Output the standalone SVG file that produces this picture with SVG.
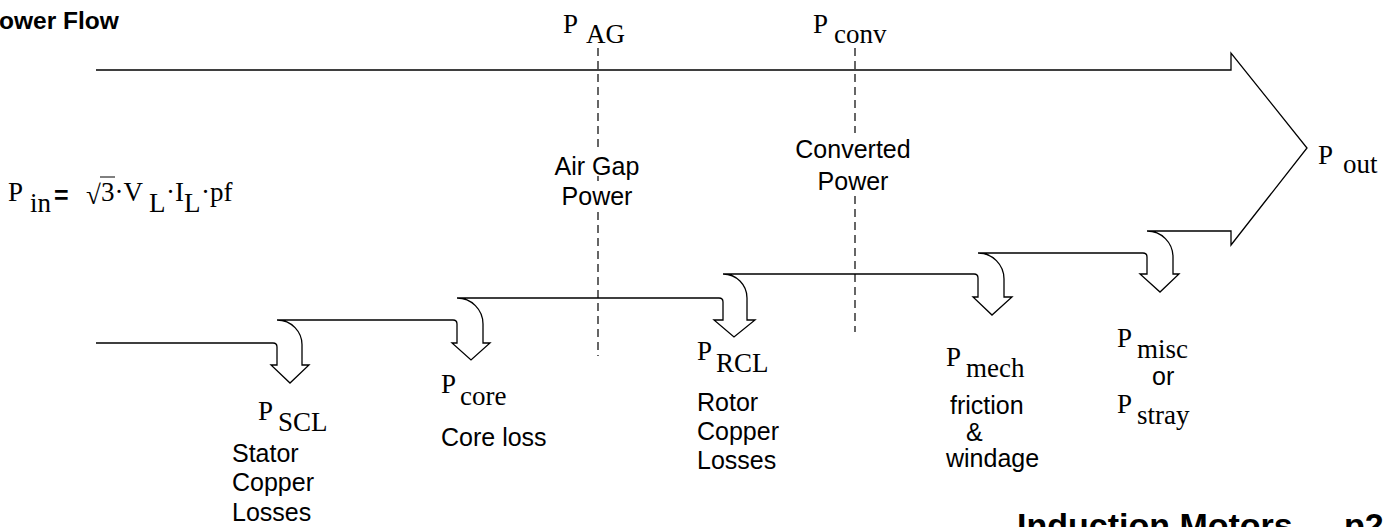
<svg xmlns="http://www.w3.org/2000/svg" width="1392" height="527" viewBox="0 0 1392 527">
<style>
.ln{fill:none;stroke:#000;stroke-width:1.3;stroke-linejoin:miter}
.dash{fill:none;stroke:#000;stroke-width:1.2;stroke-dasharray:8,5}
.s{font-family:"Liberation Sans",Arial,sans-serif;font-size:25px;fill:#000}
.t{font-family:"Liberation Serif","Times New Roman",serif;font-size:27px;fill:#000}
.b{font-family:"Liberation Sans",Arial,sans-serif;font-weight:bold;fill:#000}
</style>
<rect width="1392" height="527" fill="#fff"/>
<g id="connectors">
<path class="ln" d="M96,70 H1231 V53 L1307,148 L1231,245 V231 H1147 A26,26 0 0 1 1173,257 V274 H1179 L1160,292 L1140,274 H1147 V257 Q1147,253 1143,253 H978 A26,26 0 0 1 1004,279 V297 H1012 L992,315 L973,297 H978 V278 Q978,274 974,274 H723 A24,24 0 0 1 747,298 V320 H755 L734,337 L714,320 H723 V302 Q723,298 719,298 H457 A26,26 0 0 1 483,324 V343 H490 L471,360 L452,343 H457 V324 Q457,320 453,320 H277 A25,25 0 0 1 302,346 V365 H309 L290,383 L271,365 H277 V347 Q277,343 273,343 H96"/>
<path class="dash" d="M598,48 V150 M598,176 V181 M598,212 V356"/>
<path class="dash" d="M855,48 V133 M855,196 V332"/>
</g>
<g id="title"><text class="b" x="-1" y="29" font-size="24.5">ower Flow</text></g>
<g id="p-ag"><text class="t" x="563" y="33">P</text><text class="t" x="586" y="43">AG</text></g>
<g id="p-conv"><text class="t" x="813" y="33">P</text><text class="t" x="834" y="43">conv</text></g>
<g id="air-gap"><text class="s" x="597" y="175" text-anchor="middle">Air Gap</text><text class="s" x="597" y="205" text-anchor="middle">Power</text></g>
<g id="converted"><text class="s" x="853" y="158" text-anchor="middle">Converted</text><text class="s" x="853" y="190" text-anchor="middle">Power</text></g>
<g id="p-out"><text class="t" x="1318" y="164">P</text><text class="t" x="1343" y="173">out</text></g>
<g id="p-in">
<text class="t" x="8" y="201">P</text><text class="t" x="30" y="212">in</text>
<text class="b" font-size="25" x="54" y="204">=</text>
<text class="t" x="86" y="204">√</text>
<line x1="100" y1="177" x2="115" y2="177" stroke="#000" stroke-width="1"/>
<text class="t" x="101" y="201">3·V</text>
<text class="t" x="149" y="212">L</text>
<text class="t" x="166" y="201">·I</text>
<text class="t" x="184" y="212">L</text>
<text class="t" x="201" y="201">·pf</text>
</g>
<g id="scl"><text class="t" x="258" y="420">P</text><text class="t" x="278" y="431">SCL</text>
<text class="s" x="232" y="462">Stator</text><text class="s" x="232" y="491">Copper</text><text class="s" x="232" y="521">Losses</text></g>
<g id="core"><text class="t" x="441" y="393">P</text><text class="t" x="460" y="405">core</text>
<text class="s" x="441" y="446">Core loss</text></g>
<g id="rcl"><text class="t" x="697" y="360">P</text><text class="t" x="716" y="372">RCL</text>
<text class="s" x="697" y="411">Rotor</text><text class="s" x="697" y="440">Copper</text><text class="s" x="697" y="469">Losses</text></g>
<g id="mech"><text class="t" x="946" y="366">P</text><text class="t" x="966" y="377">mech</text>
<text class="s" x="950" y="414">friction</text><text class="s" x="966" y="441">&amp;</text><text class="s" x="946" y="467">windage</text></g>
<g id="misc"><text class="t" x="1117" y="347">P</text><text class="t" x="1137" y="358">misc</text>
<text class="s" x="1152" y="385">or</text>
<text class="t" x="1117" y="413">P</text><text class="t" x="1137" y="424">stray</text></g>
<g id="footer"><text class="b" font-size="34" x="1017" y="537">Induction Motors</text><text class="b" font-size="34" x="1344" y="537">p2</text></g>
</svg>
